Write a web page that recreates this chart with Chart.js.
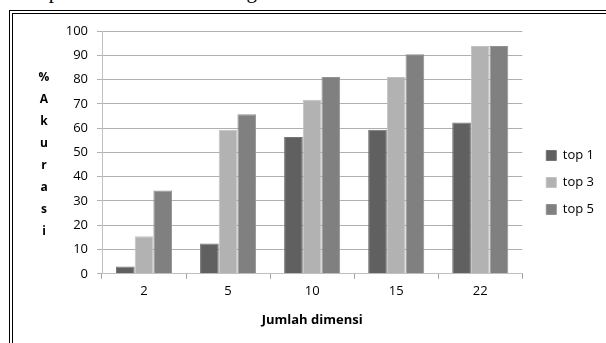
<!DOCTYPE html>
<html>
<head>
<meta charset="utf-8">
<script src="https://cdn.jsdelivr.net/npm/chart.js@4"></script>
<style>
  body { margin: 0; background: #fff; }
  #wrap { position: relative; width: 606px; height: 343px; overflow: hidden; }
  #caption { position: absolute; left: -2px; top: -21px; font: 21px "Liberation Serif", serif; color: #000; white-space: nowrap; }
  #frame { position: absolute; left: 9px; top: 10px; width: 620px; height: 360px;
           border-left: 4px double #000; border-top: 4px double #000; }
  canvas { position: absolute; left: 0; top: 0; }
</style>
</head>
<body>
<div id="wrap">
  <div id="caption">ada top-5 dari hasil tema dan genre.</div>
  <div id="frame"></div>
  <canvas id="chart" width="606" height="343"></canvas>
</div>
<script>
const dimensions = ['2', '5', '10', '15', '22'];
const top1 = [3, 12.5, 56.3, 59.3, 62.3];
const top3 = [15.5, 59.3, 71.7, 81.1, 93.8];
const top5 = [34.3, 65.7, 81.1, 90.4, 93.8];
const yTitleLetters = ['%', 'A', 'k', 'u', 'r', 'a', 's', 'i'];

const fontFamily = '"Open Sans", sans-serif';

// stacked vertical y-axis title, letter by letter
const stackedTitle = {
    id: 'stackedTitle',
    afterDraw(chart) {
        const ctx = chart.ctx;
        ctx.save();
        ctx.font = 'bold 12px ' + fontFamily;
        ctx.fillStyle = '#000';
        ctx.textAlign = 'center';
        ctx.textBaseline = 'middle';
        yTitleLetters.forEach((ch, i) => {
            ctx.fillText(ch, 44, 78 + i * 22);
        });
        ctx.restore();
    }
};

// push the legend a bit further away from the plot
const legendShift = {
    id: 'legendShift',
    afterLayout(chart) {
        if (chart.legend) {
            chart.legend.left += 10;
            chart.legend.right += 10;
            chart.legend.top += 3;
            chart.legend.bottom += 3;
        }
    }
};

new Chart(document.getElementById('chart'), {
    type: 'bar',
    data: {
        labels: dimensions,
        datasets: [
            { label: 'top 1', data: top1, backgroundColor: '#606060', borderColor: '#747474', borderWidth: 1 },
            { label: 'top 3', data: top3, backgroundColor: '#b2b2b2', borderColor: '#c2c2c2', borderWidth: 1 },
            { label: 'top 5', data: top5, backgroundColor: '#808080', borderColor: '#929292', borderWidth: 1 }
        ]
    },
    options: {
        responsive: false,
        animation: false,
        categoryPercentage: 0.667,
        barPercentage: 1,
        layout: { padding: { left: 20, right: 12, top: 31, bottom: 15 } },
        plugins: {
            legend: {
                position: 'right',
                labels: {
                    boxWidth: 10,
                    boxHeight: 10,
                    padding: 14,
                    color: '#000',
                    font: { size: 13, family: fontFamily }
                }
            },
            tooltip: { enabled: false }
        },
        scales: {
            x: {
                grid: { display: true, drawOnChartArea: false, drawTicks: true, tickLength: 5, color: '#a0a0a0', offset: true },
                border: { color: '#c0c0c0' },
                ticks: { color: '#000', padding: 5, font: { size: 13, family: fontFamily } },
                title: { display: true, text: 'Jumlah dimensi', color: '#000', padding: { top: 8, bottom: 0 },
                         font: { size: 13, weight: 'bold', family: fontFamily } }
            },
            y: {
                min: 0,
                max: 100,
                ticks: { stepSize: 10, color: '#000', padding: 9, font: { size: 13, family: fontFamily } },
                grid: { color: '#b0b0b0', tickLength: 5 },
                border: { color: '#c0c0c0' },
                afterFit(scale) { scale.width = 82; }
            }
        }
    },
    plugins: [stackedTitle, legendShift]
});
</script>
</body>
</html>
